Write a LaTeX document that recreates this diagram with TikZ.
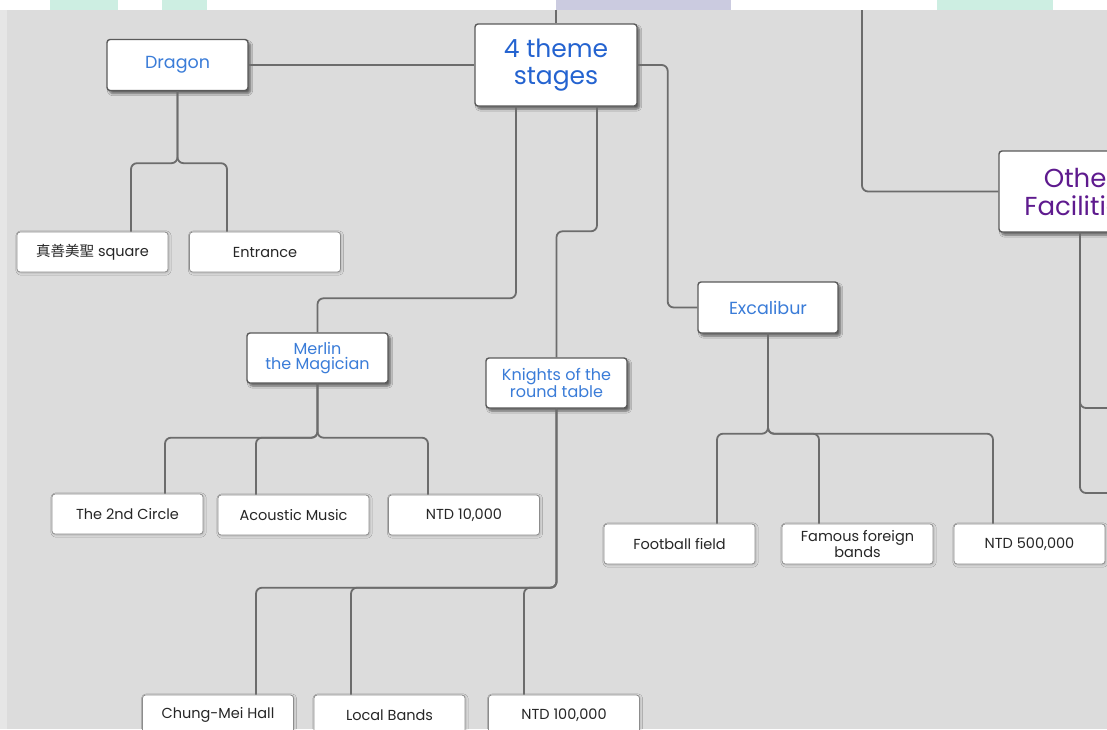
\documentclass[tikz,border=0pt]{standalone}
\usepackage{fontspec}
\setmainfont{Poppins}
\newfontfamily\cjk{Noto Sans CJK TC}
\usetikzlibrary{shadows.blur}
\definecolor{bgcol}{HTML}{DCDCDC}
\definecolor{edgecol}{HTML}{E6E6E6}
\definecolor{linecol}{HTML}{6C6C6C}
\definecolor{boxline}{HTML}{5A5A5A}
\definecolor{leafline}{HTML}{8C8C8C}
\definecolor{stageblue}{HTML}{2463D0}
\definecolor{nodeblue}{HTML}{3A7CD8}
\definecolor{otherpurple}{HTML}{5E1A8E}
\definecolor{leaftext}{HTML}{262626}
\definecolor{teal}{HTML}{CDEEE2}
\definecolor{lavender}{HTML}{CBCBE0}

\begin{document}
\begin{tikzpicture}[x=1pt, y=-1pt,
    main/.style={draw=boxline, line width=1.4pt, fill=white, rounded corners=3pt,
        inner sep=0pt, align=center, text=nodeblue,
        blur shadow={shadow xshift=2.5pt, shadow yshift=-3pt, shadow blur steps=6, shadow opacity=55}},
    leaf/.style={draw=leafline, line width=0.8pt, fill=white, rounded corners=3pt,
        minimum width=151pt, minimum height=40pt, inner sep=0pt, align=center, text=leaftext,
        font=\fontsize{14.5}{13.5}\selectfont,
        blur shadow={shadow xshift=1pt, shadow yshift=-1pt, shadow blur steps=3, shadow opacity=20}},
    link/.style={draw=linecol, line width=1.8pt, rounded corners=6pt}]
    \useasboundingbox (0,0) rectangle (1107,729);
    \clip (0,0) rectangle (1107,729);
    \fill[bgcol] (0,0) rectangle (1107,729);
    \fill[edgecol] (0,0) rectangle (7,729);

    \coordinate (stop) at (556,10);
    \coordinate (otop) at (862,10);
    \coordinate (oend1) at (1115,408);
    \coordinate (oend2) at (1115,493);

    \node[main, minimum width=162pt, minimum height=82pt, text=stageblue,
        font=\fontsize{25}{27}\selectfont] (stages) at (556,65) {4 theme\\stages};
    \node[main, minimum width=141pt, minimum height=51pt,
        font=\fontsize{17.5}{19}\selectfont] (dragon) at (177.5,65) {Dragon};
    \node[main, minimum width=141pt, minimum height=50pt,
        font=\fontsize{16}{15.5}\selectfont] (merlin) at (317.5,358) {Merlin\\the Magician};
    \node[main, minimum width=141pt, minimum height=50pt,
        font=\fontsize{16}{15.5}\selectfont] (knights) at (556.5,383) {Knights of the\\round table};
    \node[main, minimum width=140pt, minimum height=51pt,
        font=\fontsize{17.5}{19}\selectfont] (excal) at (768,307.5) {Excalibur};
    \node[main, minimum width=162pt, minimum height=81pt, text=otherpurple,
        font=\fontsize{26}{28}\selectfont] (other) at (1080,191.5) {Other\\Facilities};

    \node[leaf] (zhen) at (92.5,252) {{\cjk 真善美聖} square};
    \node[leaf] (entr) at (265,252) {Entrance};
    \node[leaf] (circ) at (127.5,514) {The 2nd Circle};
    \node[leaf] (acou) at (293.5,515) {Acoustic Music};
    \node[leaf] (ntd10) at (464,515) {NTD 10,000};
    \node[leaf] (foot) at (679.5,544) {Football field};
    \node[leaf] (fame) at (857.5,544) {Famous foreign\\bands};
    \node[leaf] (ntd500) at (1029.5,544) {NTD 500,000};
    \node[leaf] (chung) at (218,715) {Chung-Mei Hall};
    \node[leaf] (local) at (389.5,715) {Local Bands};
    \node[leaf] (ntd100) at (564,715) {NTD 100,000};

    \draw[link] (stages.north) -- (stop);
    \draw[link] (dragon.east) -- (stages.west);
    \draw[link] (stages.east) -- ++(30,0) |- (excal.west);
    \draw[link] ([xshift=-40pt]stages.south) |- ([yshift=34pt]merlin.north) -- (merlin.north);
    \draw[link] ([xshift=41pt]stages.south) |- ([yshift=126pt]knights.north) -- (knights.north);
    \draw[link] (otop) |- (other.west);
    \draw[link] (other.south) |- (oend1);
    \draw[link] (other.south) |- (oend2);
    \foreach \c/\s in {zhen/38.5, entr/-38}
        \draw[link] (dragon.south) -- ++(0,72) -| ([xshift=\s pt]\c.north);
    \foreach \c/\s in {circ/37.5, acou/-37.5, ntd10/-36}
        \draw[link] (merlin.south) -- ++(0,54) -| ([xshift=\s pt]\c.north);
    \foreach \c/\s in {chung/38, local/-38.5, ntd100/-40}
        \draw[link] (knights.south) -- ++(0,179) -| ([xshift=\s pt]\c.north);
    \foreach \c/\s in {foot/37.5, fame/-38.5, ntd500/-36.5}
        \draw[link] (excal.south) -- ++(0,100) -| ([xshift=\s pt]\c.north);

    \fill[white] (0,0) rectangle (1107,10);
    \fill[teal] (50,0) rectangle (118,10);
    \fill[teal] (162,0) rectangle (207,10);
    \fill[lavender] (556,0) rectangle (731,10);
    \fill[teal] (937,0) rectangle (1053,10);
\end{tikzpicture}
\end{document}
